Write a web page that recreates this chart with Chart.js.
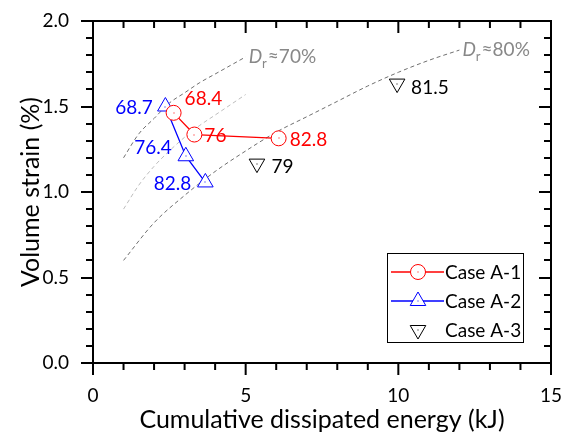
<!DOCTYPE html>
<html lang="en">
<head>
<meta charset="UTF-8">
<title>Volume strain vs cumulative dissipated energy</title>
<script src="https://cdn.jsdelivr.net/npm/chart.js@4"></script>
<style>
    body { margin: 0; background: #fff; }
    canvas { display: block; }
</style>
</head>
<body>
<canvas id="strainChart" width="561" height="435"></canvas>
<script>
    // Case A-1 (energy in kJ, volume strain in %, relative density label)
    const caseA1Energy = [2.64, 3.32, 6.08];
    const caseA1Strain = [1.463, 1.336, 1.314];
    const caseA1Dr = ['68.4', '76', '82.8'];

    // Case A-2
    const caseA2Energy = [2.37, 3.04, 3.68];
    const caseA2Strain = [1.50, 1.209, 1.056];
    const caseA2Dr = ['68.7', '76.4', '82.8'];

    // Case A-3
    const caseA3Energy = [5.37, 9.96];
    const caseA3Strain = [1.166, 1.634];
    const caseA3Dr = ['79', '81.5'];

    // Iso-density guide curves
    const dr70Energy = [1.0, 1.5, 2.0, 2.5, 3.0, 3.5, 4.0, 4.5, 5.0];
    const dr70Strain = [1.20, 1.34, 1.43, 1.52, 1.58, 1.64, 1.69, 1.74, 1.79];
    const dr75Energy = [1.0, 1.5, 2.0, 2.5, 3.0, 3.5, 4.0, 4.5, 5.0];
    const dr75Strain = [0.90, 1.04, 1.15, 1.24, 1.32, 1.39, 1.45, 1.51, 1.57];
    const dr80Energy = [1, 2, 3, 4, 5, 6, 7, 8, 9, 10, 11, 12];
    const dr80Strain = [0.60, 0.82, 0.98, 1.12, 1.24, 1.35, 1.44, 1.53, 1.62, 1.70, 1.77, 1.83];

    const xTickValues = [0, 5, 10, 15];
    const yTickValues = [0.0, 0.5, 1.0, 1.5, 2.0];

    const FONT = 'Lato, "DejaVu Sans", sans-serif';

    function toPoints(xs, ys) {
        return xs.map((x, i) => ({ x: x, y: ys[i] }));
    }

    // box around the plot with out-ticks on bottom/left and in-ticks on top/right
    const frameTicks = {
        id: 'frameTicks',
        afterDraw(chart) {
            const { ctx, chartArea: a, scales } = chart;
            const xs = scales.x, ys = scales.y;
            ctx.save();
            ctx.strokeStyle = '#000';
            ctx.lineWidth = 2;
            ctx.strokeRect(a.left, a.top, a.right - a.left, a.bottom - a.top);
            ctx.beginPath();
            for (let v = xs.min; v <= xs.max + 1e-9; v += 1) {
                const px = xs.getPixelForValue(v);
                const len = Math.abs(v % 5) < 1e-6 ? 12 : 7;
                ctx.moveTo(px, a.bottom); ctx.lineTo(px, a.bottom + len);
                ctx.moveTo(px, a.top); ctx.lineTo(px, a.top + len);
            }
            for (let i = 0; i <= 20; i++) {
                const v = ys.min + i * 0.1;
                const py = Math.round(ys.getPixelForValue(v));
                const len = i % 5 === 0 ? 12 : 7;
                ctx.moveTo(a.left, py); ctx.lineTo(a.left - len, py);
                ctx.moveTo(a.right, py); ctx.lineTo(a.right - len, py);
            }
            ctx.stroke();
            ctx.restore();
        }
    };

    // Dr value next to each marker, centre dots, and curve captions
    const markLabels = {
        id: 'markLabels',
        afterDatasetsDraw(chart) {
            const ctx = chart.ctx;
            ctx.save();
            chart.data.datasets.forEach((ds, di) => {
                const meta = chart.getDatasetMeta(di);
                if (ds.valueLabels) {
                    ctx.font = '19px ' + FONT;
                    ctx.fillStyle = ds.borderColor;
                    ctx.textBaseline = 'alphabetic';
                    meta.data.forEach((pt, i) => {
                        const [dx, dy] = ds.labelOffsets[i];
                        ctx.textAlign = dx < 0 ? 'right' : 'left';
                        ctx.fillText(ds.valueLabels[i], pt.x + dx, pt.y + dy);
                        ctx.fillRect(Math.round(pt.x) - 0.5, Math.round(pt.y) - 0.5, 1, 1);
                    });
                }
                if (ds.caption) {
                    const last = meta.data[meta.data.length - 1];
                    let x = last.x + 3, y = last.y + 6;
                    ctx.fillStyle = '#888';
                    ctx.textAlign = 'left';
                    ctx.font = 'italic 19px ' + FONT;
                    ctx.fillText('D', x, y);
                    x += ctx.measureText('D').width;
                    ctx.font = '13px ' + FONT;
                    ctx.fillText('r', x, y + 5);
                    x += ctx.measureText('r').width + 1;
                    ctx.font = '19px ' + FONT;
                    ctx.fillText('\u2248' + ds.caption, x, y);
                }
            });
            ctx.restore();
        }
    };

    function drawMarker(ctx, style, color, x, y) {
        ctx.save();
        ctx.strokeStyle = color;
        ctx.fillStyle = '#fff';
        ctx.lineWidth = 1;
        ctx.beginPath();
        if (style === 'circle') {
            ctx.arc(x, y, 7.5, 0, Math.PI * 2);
        } else {
            const r = 9, s = style === 'triangleDown' ? -1 : 1;
            ctx.moveTo(x, y - s * r);
            ctx.lineTo(x + r * Math.sin(Math.PI / 3), y + s * r / 2);
            ctx.lineTo(x - r * Math.sin(Math.PI / 3), y + s * r / 2);
            ctx.closePath();
        }
        ctx.fill();
        ctx.stroke();
        ctx.fillStyle = color;
        ctx.fillRect(Math.round(x) - 0.5, Math.round(y) - 0.5, 1, 1);
        ctx.restore();
    }

    const caseLegend = {
        id: 'caseLegend',
        afterDraw(chart) {
            const { ctx, chartArea: a } = chart;
            const items = chart.data.datasets.filter(ds => ds.legendMarker);
            const w = 136, h = 89;
            const left = a.right - 28 - w, top = a.bottom - 21 - h;
            ctx.save();
            ctx.fillStyle = '#fff';
            ctx.fillRect(left, top, w, h);
            ctx.strokeStyle = '#000';
            ctx.lineWidth = 1;
            ctx.strokeRect(left + 0.5, top + 0.5, w, h);
            items.forEach((ds, i) => {
                const cy = top + 19 + i * 29;
                if (ds.showLine) {
                    ctx.strokeStyle = ds.borderColor;
                    ctx.lineWidth = 1.3;
                    ctx.beginPath();
                    ctx.moveTo(left + 4, cy);
                    ctx.lineTo(left + 57, cy);
                    ctx.stroke();
                }
                drawMarker(ctx, ds.legendMarker, ds.borderColor, left + 31, cy);
                ctx.fillStyle = '#000';
                ctx.font = '19px ' + FONT;
                ctx.textAlign = 'left';
                ctx.textBaseline = 'alphabetic';
                ctx.fillText(ds.label, left + 58, cy + 7);
            });
            ctx.restore();
        }
    };

    const guide = (xs, ys, color, caption) => ({
        label: '',
        data: toPoints(xs, ys),
        showLine: true,
        borderColor: color,
        borderWidth: 1,
        borderDash: [4, 3],
        pointRadius: 0,
        cubicInterpolationMode: 'monotone',
        caption: caption,
        order: 2
    });

    new Chart(document.getElementById('strainChart'), {
        type: 'scatter',
        data: {
            datasets: [
                guide(dr70Energy, dr70Strain, '#6f6f6f', '70%'),
                guide(dr75Energy, dr75Strain, '#bdbdbd', null),
                guide(dr80Energy, dr80Strain, '#6f6f6f', '80%'),
                {
                    label: 'Case A-1',
                    data: toPoints(caseA1Energy, caseA1Strain),
                    showLine: true,
                    borderColor: '#ff0000',
                    borderWidth: 1.3,
                    pointStyle: 'circle',
                    pointRadius: 7.5,
                    pointBorderWidth: 1,
                    pointBackgroundColor: '#fff',
                    valueLabels: caseA1Dr,
                    labelOffsets: [[11, -8], [10, 7.5], [11, 8]],
                    legendMarker: 'circle',
                    order: 0
                },
                {
                    label: 'Case A-2',
                    data: toPoints(caseA2Energy, caseA2Strain),
                    showLine: true,
                    borderColor: '#0000ff',
                    borderWidth: 1.3,
                    pointStyle: 'triangle',
                    pointRadius: 9,
                    pointBorderWidth: 1,
                    pointBackgroundColor: '#fff',
                    valueLabels: caseA2Dr,
                    labelOffsets: [[-12.5, 7.5], [-14, -2.5], [-14, 7.5]],
                    legendMarker: 'triangle',
                    order: 0
                },
                {
                    label: 'Case A-3',
                    data: toPoints(caseA3Energy, caseA3Strain),
                    showLine: false,
                    borderColor: '#000',
                    pointStyle: 'triangle',
                    rotation: 180,
                    pointRadius: 9,
                    pointBorderWidth: 1,
                    pointBackgroundColor: '#fff',
                    valueLabels: caseA3Dr,
                    labelOffsets: [[14.5, 9.5], [14, 10.5]],
                    legendMarker: 'triangleDown',
                    order: 0
                }
            ]
        },
        options: {
            responsive: false,
            animation: false,
            events: [],
            layout: { padding: { left: 0, right: 9, top: 21, bottom: 0 } },
            plugins: { legend: { display: false }, tooltip: { enabled: false } },
            scales: {
                x: {
                    type: 'linear',
                    min: 0, max: 15,
                    afterBuildTicks: s => { s.ticks = xTickValues.map(v => ({ value: v })); },
                    afterFit: s => { s.height = 72; s.paddingLeft = 0; s.paddingRight = 0; },
                    grid: { display: false, drawTicks: false },
                    border: { display: false },
                    ticks: { padding: 21, color: '#000', font: { family: FONT, size: 19 } },
                    title: {
                        display: true,
                        text: 'Cumulative dissipated energy (kJ)',
                        color: '#000',
                        font: { family: FONT, size: 25 },
                        padding: { top: 0, bottom: 0 }
                    }
                },
                y: {
                    type: 'linear',
                    min: 0, max: 2,
                    afterBuildTicks: s => { s.ticks = yTickValues.map(v => ({ value: v })); },
                    afterFit: s => { s.width = 93; s.paddingTop = 0; s.paddingBottom = 0; },
                    grid: { display: false, drawTicks: false },
                    border: { display: false },
                    ticks: {
                        padding: 24,
                        color: '#000',
                        font: { family: FONT, size: 19 },
                        callback: v => v.toFixed(1)
                    },
                    title: {
                        display: true,
                        text: 'Volume strain (%)',
                        color: '#000',
                        font: { family: FONT, size: 25 },
                        padding: { top: 16, bottom: 0 }
                    }
                }
            }
        },
        plugins: [markLabels, frameTicks, caseLegend]
    });
</script>
</body>
</html>
